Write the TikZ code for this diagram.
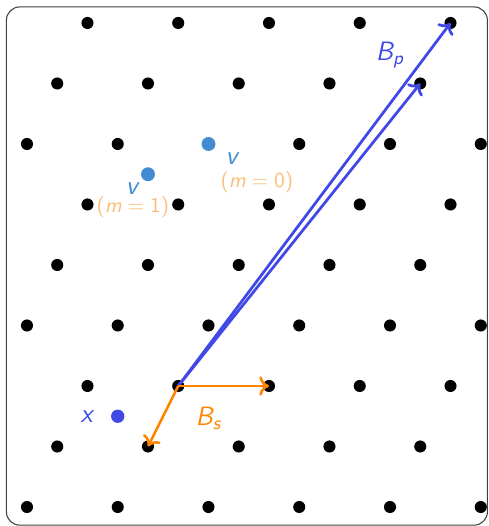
\documentclass[tikz,border=0pt]{standalone}
\usepackage{amsmath}
\usetikzlibrary{arrows.meta}
\definecolor{latblue}{RGB}{64,72,230}
\definecolor{vblue}{RGB}{66,140,212}
\definecolor{bsorange}{RGB}{255,133,0}
\definecolor{morange}{RGB}{250,190,122}
\newcommand{\sfit}[1]{\textsf{\itshape #1}}
\tikzset{
  latdot/.style={circle,fill=black,inner sep=0pt,minimum size=2mm},
  vdot/.style={circle,fill=vblue,inner sep=0pt,minimum size=2.3mm},
  xdot/.style={circle,fill=latblue,inner sep=0pt,minimum size=2.2mm},
  biglab/.style={font=\sffamily\fontsize{12.5}{14}\selectfont,inner sep=1pt},
  mlab/.style={font=\sffamily\normalsize,text=morange,inner sep=1pt},
  parr/.style={-{To[length=1.6mm,width=3.2mm]},line width=1.3pt,latblue},
  sarr/.style={-{To[length=1.6mm,width=3.2mm]},line width=1.2pt,bsorange},
  frame/.style={draw=black!75,line width=.5pt,rounded corners=2.2mm}
}

\begin{document}
\begin{tikzpicture}[x=1cm,y=1cm]
  \useasboundingbox (-0.446,-0.314) rectangle (7.62,8.38);
  \draw[frame] (-0.34,-0.30) rectangle (7.61,8.265);

  \foreach \r in {0,...,8}{
    \foreach \i in {0,...,5}{
      \pgfmathsetmacro\xx{1.5*\i+0.5*mod(\r,3)}
      \ifdim\xx pt<7.6pt \node[latdot] (p-\r-\i) at (\xx,\r) {}; \fi
    }
  }

  \node[vdot] (v0) at (p-6-2) {};
  \node[vdot] (v1) at (2,5.5) {};
  \node[biglab,text=vblue] (v0lab) at (3.4,5.76) {\sfit{v}};
  \node[mlab] (m0lab) at (3.8,5.37) {(\sfit{m}\;=\;0)};
  \node[biglab,text=vblue] (v1lab) at (1.75,5.26) {\sfit{v}};
  \node[mlab] (m1lab) at (1.75,4.95) {(\sfit{m}\;=\;1)};

  \node[xdot] (xpt) at (1.5,1.5) {};
  \node[biglab,text=latblue] (xlab) at (1.0,1.5) {\sfit{x}};

  \draw[parr] (p-2-1.center) -- (p-8-4.center);
  \draw[parr] (p-2-1.center) -- (p-7-4.center);
  \node[biglab,text=latblue] (bplab) at (6.0,7.47) {$\sfit{B}_{\sfit{p}}$};

  \draw[sarr] (p-2-1.center) -- (p-2-2.center);
  \draw[sarr] (p-2-1.center) -- (p-1-1.center);
  \node[biglab,text=bsorange] (bslab) at (3.0,1.47) {$\sfit{B}_{\sfit{s}}$};
\end{tikzpicture}
\end{document}
